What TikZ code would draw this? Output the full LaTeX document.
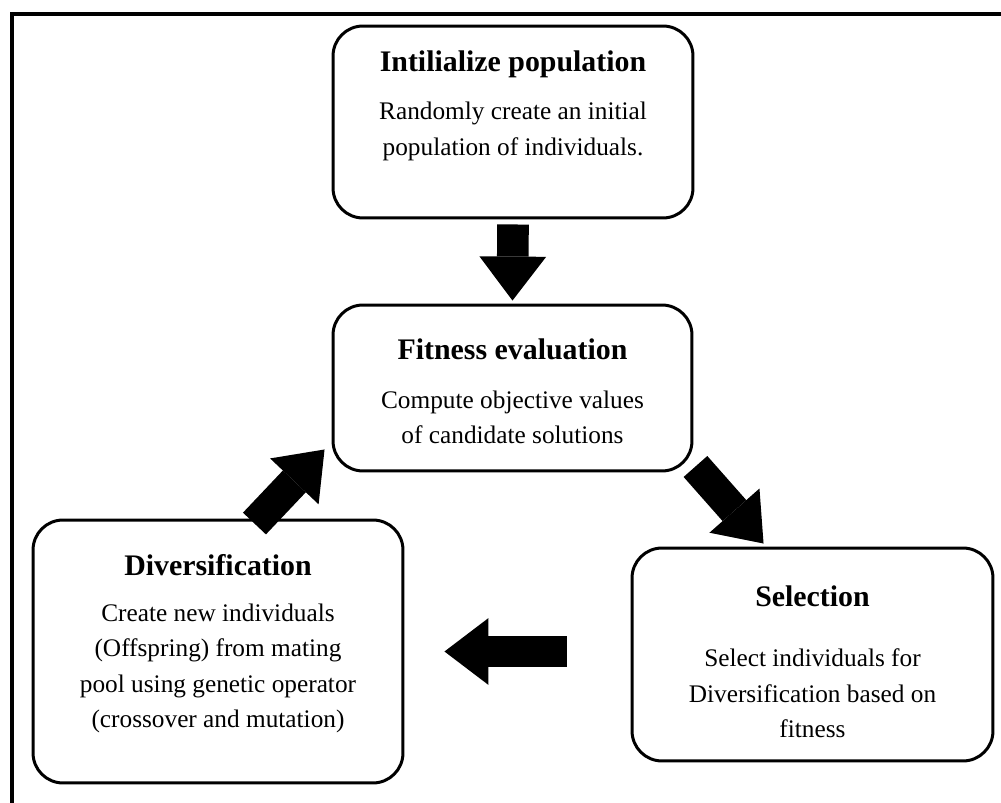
\documentclass[tikz,border=0pt]{standalone}
\usepackage{fontspec}
\setmainfont{Liberation Serif}
\usetikzlibrary{calc,arrows.meta}

\tikzset{
  stagebox/.style={draw, line width=1.7pt, rounded corners=0.6cm, inner sep=0pt},
  stagetitle/.style={font=\fontsize{17}{20}\selectfont\bfseries},
  stagetext/.style={font=\fontsize{14.4}{20.2}\selectfont, align=center},
  fatarrow/.style={line width=18pt, -{Triangle[length=25pt, width=38pt, line width=0pt]}},
}

\begin{document}
\begin{tikzpicture}[x=0.02cm, y=-0.02cm]
		%%%%% START %%%%%
		\useasboundingbox (0, 0) rectangle (1001, 803);
		
		\draw[line width=2.3pt] (12, 803) -- (12, 14) -- (1001, 14);
		
		\node[stagebox, minimum width=7.2cm, minimum height=3.84cm] (init) at (513, 122) {};
		\node[stagebox, minimum width=7.18cm, minimum height=3.32cm] (fit) at (512.5, 388) {};
		\node[stagebox, minimum width=7.4cm, minimum height=5.26cm] (div) at (218, 651.5) {};
		\node[stagebox, minimum width=7.22cm, minimum height=4.26cm] (sel) at (812.5, 654.5) {};
		
		\node[stagetitle] (inittitle) at ($(init.north)+(0, 40)$) {Intilialize population};
		\node[stagetext] (inittext) at ($(init.north)+(0, 107)$) {Randomly create an initial\\population of individuals.};
		
		\node[stagetitle] (fittitle) at ($(fit.north)+(0, 46)$) {Fitness evaluation};
		\node[stagetext] (fittext) at ($(fit.north)+(0, 114)$) {Compute objective values\\of candidate solutions};
		
		\node[stagetitle] (divtitle) at ($(div.north)+(0, 47)$) {Diversification};
		\node[stagetext] (divtext) at ($(div.north)+(0, 150)$) {Create new individuals\\(Offspring) from mating\\pool using genetic operator\\(crossover and mutation)};
		
		\node[stagetitle] (seltitle) at ($(sel.north)+(0, 50)$) {Selection};
		\node[stagetext] (seltext) at ($(sel.north)+(0, 147)$) {Select individuals for\\Diversification based on\\fitness};
		
		\draw[fatarrow] ($(init.south)+(0, 5)$) -- ($(fit.north)+(0, -3)$);
		\draw[fatarrow] ($(fit.south east)+(2, -6)$) -- ($(sel.north west)+(133, -3)$);
		\draw[fatarrow] ($(sel.west)+(-64, -3)$) -- ($(div.east)+(40, 0)$);
		\draw[fatarrow] ($(div.north east)+(-150, 5)$) -- ($(fit.south west)+(-7, -23)$);
		
		%%%%% END %%%%%
	\end{tikzpicture}
\end{document}
